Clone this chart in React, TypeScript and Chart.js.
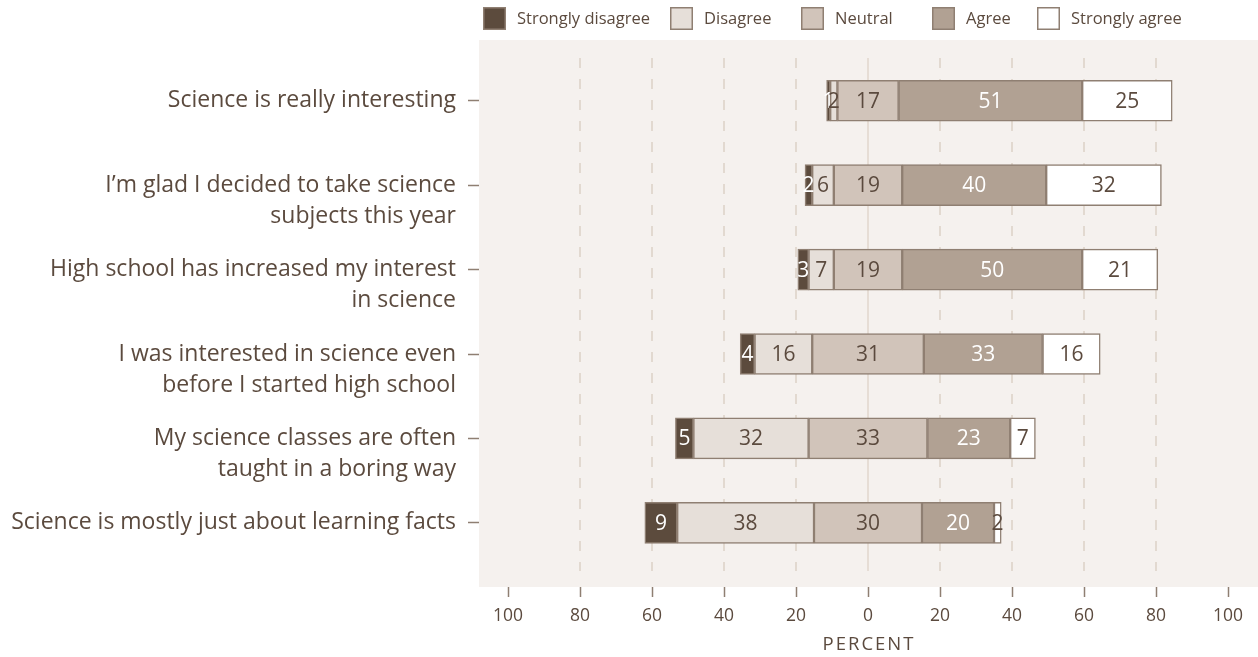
import React, { useEffect, useRef } from 'react';
import { Chart, registerables } from 'chart.js';

Chart.register(...registerables);

// ---------- data ----------
const questions: string[][] = [
  ['Science is really interesting'],
  ['I’m glad I decided to take science', 'subjects this year'],
  ['High school has increased my interest', 'in science'],
  ['I was interested in science even', 'before I started high school'],
  ['My science classes are often', 'taught in a boring way'],
  ['Science is mostly just about learning facts'],
];
const seriesNames = ['Strongly disagree', 'Disagree', 'Neutral', 'Agree', 'Strongly agree'];
const stronglyDisagree = [1, 2, 3, 4, 5, 9];
const disagree = [2, 6, 7, 16, 32, 38];
const neutral = [17, 19, 19, 31, 33, 30];
const agree = [51, 40, 50, 33, 23, 20];
const stronglyAgree = [25, 32, 21, 16, 7, 2];
const xTickStep = 20;
const axisTitle = 'PERCENT';

// ---------- styles ----------
const DARK = '#5b4a3e';
const BORDER = '#8f7f72';
const fills = ['#5c4b3d', '#e6dfd9', '#d1c4ba', '#b1a193', '#ffffff'];
const labelColors = ['#ffffff', DARK, DARK, '#ffffff', DARK];
const legendOffsets = [4, 191, 322, 453, 558];
const FONT = '"Open Sans"';

const series = [stronglyDisagree, disagree, neutral, agree, stronglyAgree];

function rowRanges(i: number): number[][] {
  const half = neutral[i] / 2;
  const dStart = -half - disagree[i];
  const sdStart = dStart - stronglyDisagree[i];
  const aEnd = half + agree[i];
  const saEnd = aEnd + stronglyAgree[i];
  return [
    [sdStart, dStart],
    [dStart, -half],
    [-half, half],
    [half, aEnd],
    [aEnd, saEnd],
  ];
}

const backgroundPlugin = {
  id: 'plotBg',
  beforeDraw(chart: any) {
    const { ctx, chartArea } = chart;
    ctx.save();
    ctx.fillStyle = '#f5f1ee';
    ctx.fillRect(chartArea.left, chartArea.top, chartArea.right - chartArea.left, chartArea.bottom - chartArea.top);
    ctx.restore();
  },
  beforeDatasetsDraw(chart: any) {
    const { ctx, chartArea, scales } = chart;
    const xs = scales.x;
    const top = chartArea.top + 18;
    const bottom = chartArea.bottom - 16;
    ctx.save();
    xs.ticks.forEach((t: any) => {
      const v = t.value;
      if (Math.abs(v) >= 100) return;
      const px = xs.getPixelForValue(v);
      ctx.beginPath();
      if (v === 0) {
        ctx.setLineDash([]);
        ctx.strokeStyle = '#e6ddd5';
      } else {
        ctx.setLineDash([10, 11]);
        ctx.strokeStyle = '#e2d9d0';
      }
      ctx.lineWidth = 2;
      ctx.moveTo(px, top);
      ctx.lineTo(px, bottom);
      ctx.stroke();
    });
    ctx.restore();
  },
};

const labelPlugin = {
  id: 'barLabels',
  afterDatasetsDraw(chart: any) {
    const { ctx } = chart;
    ctx.save();
    ctx.font = `21px ${FONT}`;
    ctx.textAlign = 'center';
    ctx.textBaseline = 'middle';
    chart.data.datasets.forEach((ds: any, s: number) => {
      const meta = chart.getDatasetMeta(s);
      meta.data.forEach((el: any, i: number) => {
        const cx = (el.x + el.base) / 2;
        ctx.fillStyle = labelColors[s];
        ctx.fillText(String(series[s][i]), cx, el.y + 1);
      });
    });
    ctx.restore();
  },
  afterDraw(chart: any) {
    const { ctx, chartArea, scales } = chart;
    ctx.save();
    // legend
    ctx.font = `16.5px ${FONT}`;
    ctx.textBaseline = 'middle';
    ctx.textAlign = 'left';
    seriesNames.forEach((name, s) => {
      const x = chartArea.left + legendOffsets[s];
      ctx.fillStyle = fills[s];
      ctx.fillRect(x, 7, 23, 23);
      ctx.strokeStyle = BORDER;
      ctx.lineWidth = 1.5;
      ctx.strokeRect(x + 0.75, 7.75, 21.5, 21.5);
      ctx.fillStyle = DARK;
      ctx.fillText(name, x + 34, 19);
    });
    // axis title
    ctx.font = `18.5px ${FONT}`;
    (ctx as any).letterSpacing = '2px';
    ctx.textAlign = 'center';
    ctx.fillStyle = DARK;
    ctx.fillText(axisTitle, scales.x.getPixelForValue(0) + 1, 645);
    ctx.restore();
  },
};

export default function App() {
  const ref = useRef<HTMLCanvasElement | null>(null);

  useEffect(() => {
    if (!ref.current) return;
    const datasets = seriesNames.map((name, s) => ({
      label: name,
      data: questions.map((_, i) => ({ y: i, x: rowRanges(i)[s] })),
      backgroundColor: fills[s],
      borderColor: BORDER,
      borderWidth: 1.5,
      borderSkipped: false,
      barThickness: 41,
      grouped: false,
    }));

    const chart = new Chart(ref.current, {
      type: 'bar',
      data: { datasets } as any,
      plugins: [backgroundPlugin, labelPlugin],
      options: {
        indexAxis: 'y',
        animation: false,
        responsive: false,
        layout: { padding: { top: 40, right: 0, bottom: 0, left: 0 } },
        plugins: {
          legend: { display: false },
          tooltip: { enabled: false },
        },
        scales: {
          x: {
            type: 'linear',
            min: -108.06,
            max: 108.33,
            afterFit: (scale: any) => {
              scale.height = 70;
            },
            ticks: {
              stepSize: xTickStep,
              includeBounds: false,
              autoSkip: false,
              maxRotation: 0,
              padding: 9,
              color: DARK,
              font: { family: FONT, size: 17.5 },
              callback: (v: any) => String(Math.abs(Number(v))),
            },
            grid: {
              display: true,
              drawOnChartArea: false,
              drawTicks: true,
              tickLength: 10,
              tickColor: BORDER,
              tickWidth: 1.5,
            },
            border: { display: false },
          },
          y: {
            type: 'linear',
            reverse: true,
            offset: false,
            min: -0.72,
            max: 5.76,
            afterBuildTicks: (scale: any) => {
              scale.ticks = questions.map((_, i) => ({ value: i }));
            },
            afterFit: (scale: any) => {
              scale.width = 479;
            },
            ticks: {
              autoSkip: false,
              padding: 12,
              color: DARK,
              font: { family: FONT, size: 23, lineHeight: 1.35 },
              callback: (v: any) => {
                const q = questions[Number(v)];
                if (!q) return '';
                return q.length > 1 ? ['', ...q] : q[0];
              },
            },
            grid: {
              display: true,
              offset: false,
              drawOnChartArea: false,
              drawTicks: true,
              tickLength: 11,
              tickColor: BORDER,
              tickWidth: 1.5,
            },
            border: { display: false },
          },
        },
      } as any,
    });
    return () => chart.destroy();
  }, []);

  return (
    <div style={{ position: 'absolute', left: 0, top: 0, width: 1258, height: 657, background: '#ffffff' }}>
      <canvas ref={ref} width={1258} height={657} style={{ display: 'block' }} />
    </div>
  );
}
